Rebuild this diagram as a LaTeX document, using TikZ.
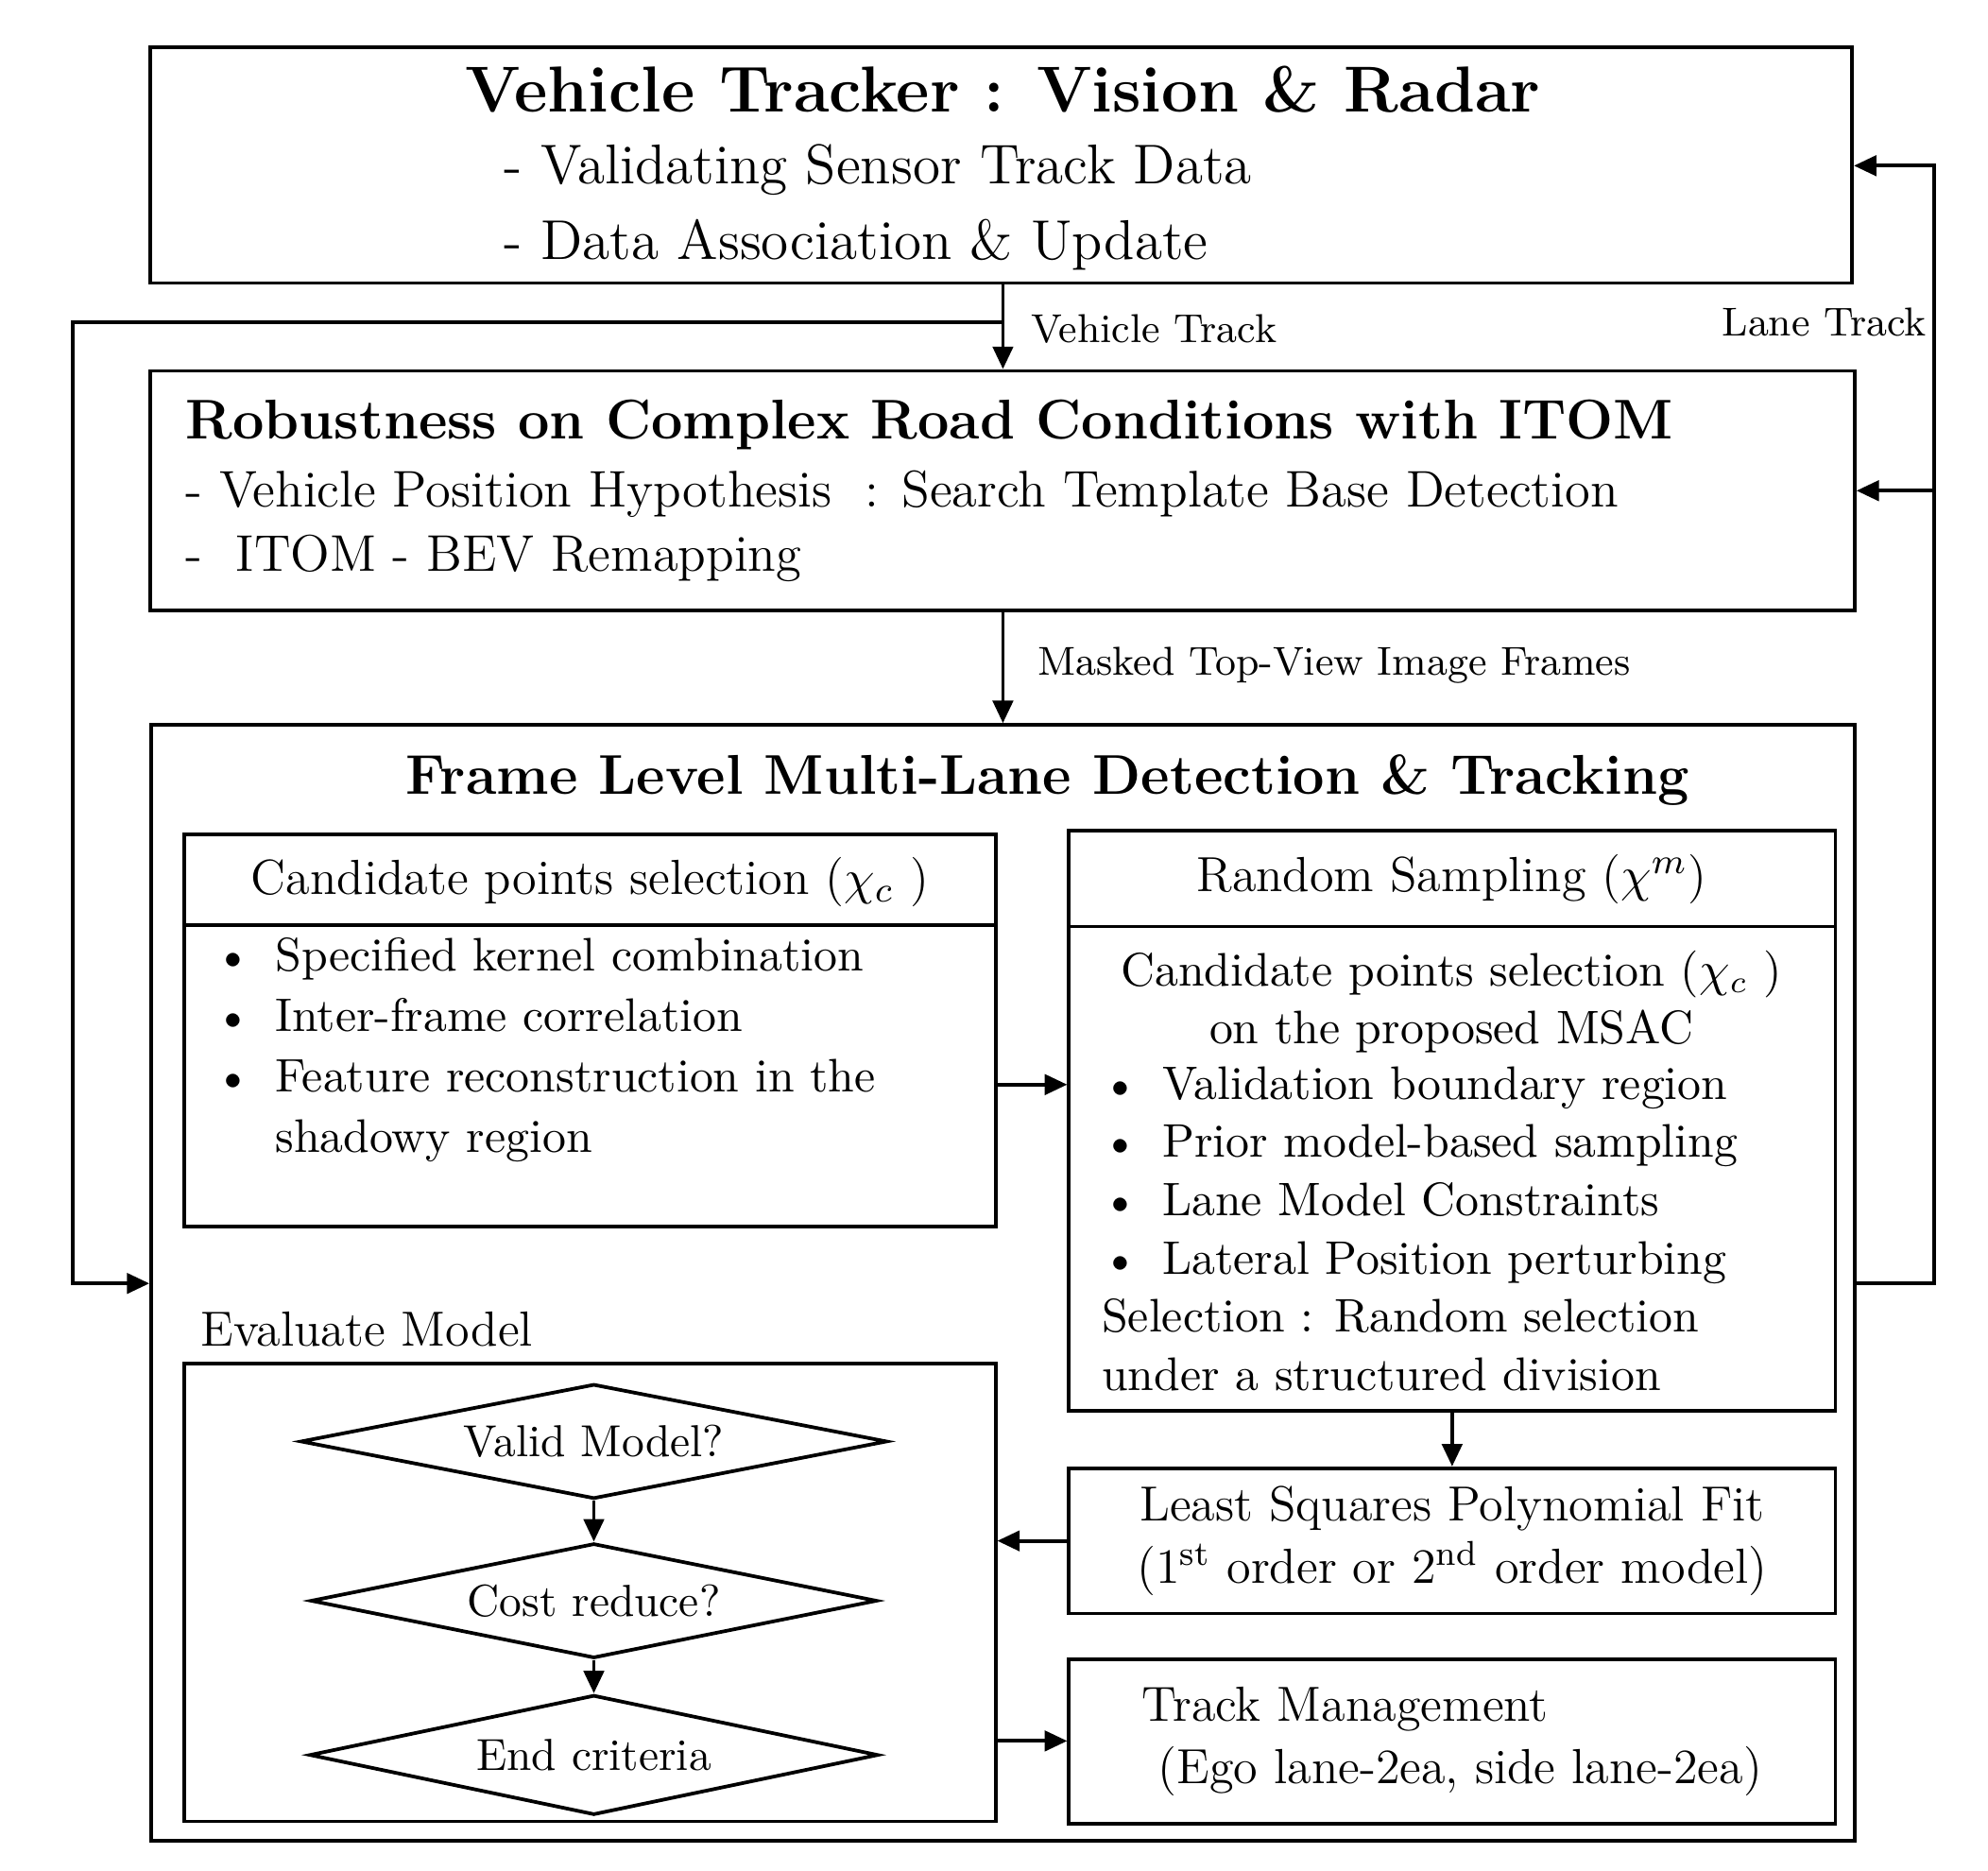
\documentclass[tikz,border=0pt]{standalone}
\usepackage{tikz}
\usetikzlibrary{shapes.geometric,arrows.meta}

\tikzset{
  box/.style={draw, line width=0.8pt, rectangle, inner sep=0pt},
  dia/.style={draw, line width=0.8pt, diamond, aspect=4.9, inner sep=0pt, font=\fontsize{10}{12}\selectfont},
  conn/.style={line width=0.8pt, -{Triangle[length=5pt,width=4.5pt]}},
  lbl/.style={font=\fontsize{9}{11}\selectfont, inner sep=1pt},
  txt/.style={inner sep=0pt, align=left},
}
\newcommand{\bul}{\makebox[13.5pt][l]{\textbullet}}

\begin{document}
\begin{tikzpicture}[x=0.01cm, y=-0.01cm]
\useasboundingbox (0,0) rectangle (1560,1468);

% outer boxes
\node[box, minimum width=13.35cm, minimum height=1.85cm] (veh) at (785.5,129.5) {};
\node[box, minimum width=13.37cm, minimum height=1.88cm] (itom) at (786.5,385) {};
\node[box, minimum width=13.36cm, minimum height=8.75cm] (lane) at (787,1006.5) {};

% texts of the top boxes
\node[font=\bfseries\fontsize{14.5}{18}\selectfont] (vehT) at (787,70) {Vehicle Tracker : Vision \& Radar};
\node[txt, anchor=west, font=\fontsize{12.5}{15}\selectfont] (vehA) at (395,133) {- Validating Sensor Track Data};
\node[txt, anchor=west, font=\fontsize{12.5}{15}\selectfont] (vehB) at (395,192) {- Data Association \& Update};
\node[txt, anchor=west, font=\bfseries\fontsize{12.5}{16}\selectfont] (itomT) at (145,333) {Robustness on Complex Road Conditions with ITOM};
\node[txt, anchor=west, font=\fontsize{11.5}{14}\selectfont] (itomA) at (145,388) {- Vehicle Position Hypothesis \ : Search Template Base Detection};
\node[txt, anchor=west, font=\fontsize{11.5}{14}\selectfont] (itomB) at (145,438) {- \ ITOM - BEV Remapping};
\node[font=\bfseries\fontsize{12.5}{16}\selectfont] (laneT) at (822,612) {Frame Level Multi-Lane Detection \& Tracking};

% candidate points
\node[box, minimum width=6.36cm, minimum height=3.07cm] (cand) at (463,808.5) {};
\draw[line width=0.8pt] (145,726) -- (781,726);
\node[font=\fontsize{11}{13}\selectfont] (candT) at (463,692) {Candidate points selection ($\chi_c$ )};
\node[txt, anchor=north west, font=\fontsize{10.5}{13.5}\selectfont] (candL) at (168,735)
  {\bul Specified kernel combination\\
   \bul Inter-frame correlation\\
   \bul Feature reconstruction in the\\
   \hspace*{13.5pt}shadowy region};

% random sampling
\node[box, minimum width=6.01cm, minimum height=4.55cm] (rand) at (1139.5,879.5) {};
\draw[line width=0.8pt] (839,727) -- (1440,727);
\node[font=\fontsize{11}{13}\selectfont] (randT) at (1139,690) {Random Sampling ($\chi^m$)};
\node[font=\fontsize{10.5}{13}\selectfont, align=center] (randA) at (1139,786) {Candidate points selection ($\chi_c$ )\\on the proposed MSAC};
\node[txt, anchor=north west, font=\fontsize{10.5}{13}\selectfont] (randL) at (864,836)
  {\bul Validation boundary region\\
   \bul Prior model-based sampling\\
   \bul Lane Model Constraints\\
   \bul Lateral Position perturbing\\
   Selection : Random selection\\
   under a structured division};

% fit and track management
\node[box, minimum width=6.01cm, minimum height=1.14cm, align=center, font=\fontsize{11}{14}\selectfont] (fit) at (1139.5,1209)
  {Least Squares Polynomial Fit\\(1\textsuperscript{st} order or 2\textsuperscript{nd} order model)};
\node[box, minimum width=6.01cm, minimum height=1.29cm, align=left, font=\fontsize{11}{14}\selectfont] (track) at (1139.5,1366.5)
  {Track Management\\ \ (Ego lane-2ea, side lane-2ea)};

% evaluate model
\node[font=\fontsize{11}{13}\selectfont, anchor=west, inner sep=0pt] (evalT) at (157,1043) {Evaluate Model};
\node[box, minimum width=6.36cm, minimum height=3.59cm] (eval) at (463,1249.5) {};
\node[dia, minimum width=4.6cm, minimum height=0.9cm] (valid) at (466,1131) {Valid Model?};
\node[dia, minimum width=4.44cm, minimum height=0.9cm] (cost) at (466,1256) {Cost reduce?};
\node[dia, minimum width=4.46cm, minimum height=0.94cm] (endc) at (466,1377) {End criteria};

% connectors
\coordinate (vj) at (787,253);
\draw[conn] (veh.south -| vj) -- (itom.north -| vj);
\node[lbl, anchor=west] at (805,258) {Vehicle Track};
\draw[conn] (vj) -- (57,253) -- (57,1007) -- (lane.west |- 0,1007);
\draw[conn] (itom.south -| vj) -- (lane.north -| vj);
\node[lbl, anchor=west] at (810,522) {Masked Top-View Image Frames};
\coordinate (rj) at (1518,385);
\draw[conn] (lane.east |- 0,1007) -- (1518,1007) -- (1518,130) -- (veh.east |- 0,130);
\draw[conn] (rj) -- (itom.east |- rj);
\node[lbl, anchor=east] at (1516,253) {Lane Track};
\draw[conn] (cand.east |- 0,851) -- (rand.west |- 0,851);
\draw[conn] (rand.south) -- (fit.north);
\draw[conn] (fit.west) -- (eval.east |- fit.west);
\draw[conn] (valid.south) -- (cost.north);
\draw[conn] (cost.south) -- (endc.north);
\draw[conn] (eval.east |- 0,1366) -- (track.west |- 0,1366);
\end{tikzpicture}
\end{document}
